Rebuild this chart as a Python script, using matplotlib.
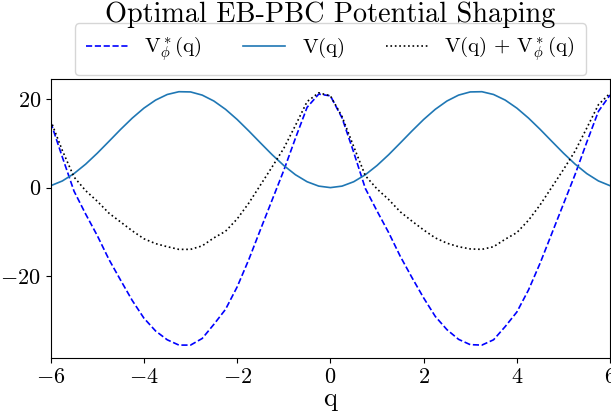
import numpy as np
import matplotlib
matplotlib.use("Agg")
import matplotlib.pyplot as plt

plt.rcParams.update({
    "font.family": "serif",
    "font.serif": ["cmr10", "DejaVu Serif"],
    "mathtext.fontset": "cm",
    "axes.formatter.use_mathtext": True,
    "axes.unicode_minus": True,
})

q = [-6.0, -5.75, -5.5, -5.25, -5.0, -4.75, -4.5, -4.25, -4.0, -3.75, -3.5, -3.25,
     -3.0, -2.75, -2.5, -2.25, -2.0, -1.75, -1.5, -1.25, -1.0, -0.75, -0.5, -0.25,
     0.0, 0.25, 0.5, 0.75, 1.0, 1.25, 1.5, 1.75, 2.0, 2.25, 2.5, 2.75,
     3.0, 3.25, 3.5, 3.75, 4.0, 4.25, 4.5, 4.75, 5.0, 5.25, 5.5, 5.75, 6.0]

v_phi = [14.8, 6.9, -0.8, -6.0, -10.9, -16.3, -21.0, -25.6, -29.6, -32.5, -34.5, -35.7,
         -35.7, -34.2, -31.0, -27.6, -22.5, -16.3, -9.5, -2.8, 3.9, 11.2, 18.2, 21.2,
         20.8, 15.8, 8.0, -0.2, -5.3, -10.2, -15.6, -20.4, -25.0, -29.2, -32.2, -34.4,
         -35.6, -35.7, -34.5, -31.5, -28.2, -23.2, -17.1, -10.4, -3.7, 3.0, 10.3, 17.3, 21.0]

v = [0.43, 1.51, 3.18, 5.32, 7.81, 10.49, 13.20, 15.76, 18.02, 19.84, 21.11, 21.74,
     21.69, 20.97, 19.63, 17.75, 15.44, 12.84, 10.13, 7.46, 5.01, 2.92, 1.33, 0.34,
     0.0, 0.34, 1.33, 2.92, 5.01, 7.46, 10.13, 12.84, 15.44, 17.75, 19.63, 20.97,
     21.69, 21.74, 21.11, 19.84, 18.02, 15.76, 13.20, 10.49, 7.81, 5.32, 3.18, 1.51, 0.43]

v_sum = [15.2, 8.4, 2.4, -0.7, -3.1, -5.8, -7.8, -9.8, -11.6, -12.7, -13.4, -14.0,
         -14.0, -13.2, -11.4, -9.9, -7.1, -3.5, 0.6, 4.7, 8.9, 14.1, 19.5, 21.5,
         20.8, 16.1, 9.3, 2.7, -0.3, -2.7, -5.5, -7.6, -9.6, -11.4, -12.6, -13.4,
         -13.9, -14.0, -13.4, -11.7, -10.2, -7.4, -3.9, 0.1, 4.1, 8.3, 13.5, 18.8, 21.4]

labels = [r"$\mathrm{V}^*_\phi\mathrm{(q)}$", r"$\mathrm{V(q)}$",
          r"$\mathrm{V(q)}$ + $\mathrm{V}^*_\phi\mathrm{(q)}$"]
title = "Optimal EB-PBC Potential Shaping"
xticks = [-6, -4, -2, 0, 2, 4, 6]
yticks = [-20, 0, 20]

fig = plt.figure(figsize=(6.11, 4.16), dpi=100)
ax = fig.add_axes([0.083, 0.140, 0.9155, 0.670])

ax.plot(q, v_phi, linestyle="--", color="blue", lw=1.2, label=labels[0])
ax.plot(q, v, linestyle="-", color="#1f77b4", lw=1.2, label=labels[1])
ax.plot(q, v_sum, linestyle=":", color="black", lw=1.2, label=labels[2])

ax.set_xlim(-6, 6)
ax.set_xticks(xticks)
ax.set_yticks(yticks)
ax.tick_params(labelsize=16)
ax.set_xlabel("q", fontsize=19, labelpad=0)

ax.legend(loc="lower center", bbox_to_anchor=(0.5, 1.0), ncol=3, fontsize=15,
          borderaxespad=0.2, borderpad=0.55)
fig.text(0.5405, 0.997, title, ha="center", va="top", fontsize=20.3)

fig.savefig("out.png", dpi=100)
